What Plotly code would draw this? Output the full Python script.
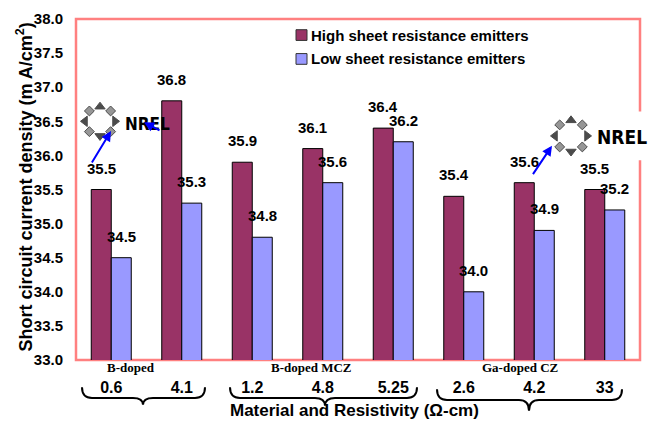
import math
import plotly.graph_objects as go

# Short-circuit current density by material and resistivity
resistivity = ["0.6", "4.1", "1.2", "4.8", "5.25", "2.6", "4.2", "33"]
high_sheet = [35.5, 36.8, 35.9, 36.1, 36.4, 35.4, 35.6, 35.5]
low_sheet = [34.5, 35.3, 34.8, 35.6, 36.2, 34.0, 34.9, 35.2]
series_names = ["High sheet resistance emitters", "Low sheet resistance emitters"]
materials = ["B-doped", "B-doped MCZ", "Ga-doped CZ"]

W, H = 652, 427
ML, MR, MT, MB = 76, 12, 10, 67
PW, PH = W - ML - MR, H - MT - MB

HIGH_COLOR = "#993366"
LOW_COLOR = "#9999FF"
SANS = "Liberation Sans, Arial, sans-serif"
SERIF = "Liberation Serif, Times New Roman, serif"


def px(x):
    return (x - ML) / PW


def py(y):
    return (H - MB - y) / PH


def label(x, y, text, font, **kw):
    d = dict(x=px(x), y=py(y), xref="paper", yref="paper", text=text, showarrow=False,
             xanchor="center", yanchor="middle", font=font)
    d.update(kw)
    return d


fig = go.Figure()
fig.add_trace(go.Bar(x=resistivity, y=high_sheet, name=series_names[0],
                     marker=dict(color=HIGH_COLOR, line=dict(color="#000000", width=1)),
                     showlegend=False))
fig.add_trace(go.Bar(x=resistivity, y=low_sheet, name=series_names[1],
                     marker=dict(color=LOW_COLOR, line=dict(color="#000000", width=1)),
                     showlegend=False))

bold15 = dict(family=SANS, size=15, color="#000", weight="bold")
annotations = []
# value labels above each bar (category index positions on the x axis)
for i, (hv, lv) in enumerate(zip(high_sheet, low_sheet)):
    for val, shift in ((hv, -10), (lv, 10)):
        annotations.append(dict(x=i, y=val, xref="x", yref="y", xshift=shift, yshift=11,
                                text=f"{val:.1f}", showarrow=False, xanchor="center",
                                yanchor="bottom", font=bold15))

# legend drawn inside the plot area
shapes = []
for i, (name, col) in enumerate(zip(series_names, [HIGH_COLOR, LOW_COLOR])):
    cy = 26.5 + 24.5 * i
    shapes.append(dict(type="rect", xref="paper", yref="paper",
                       x0=px(296), x1=px(307), y0=py(cy - 5.5), y1=py(cy + 5.5),
                       fillcolor=col, line=dict(color="#333333", width=1)))
    annotations.append(label(309, cy, name, bold15, xanchor="left"))

# plot-area frame
shapes.insert(0, dict(type="rect", xref="paper", yref="paper", x0=0, x1=1, y0=0, y1=1,
                      line=dict(color="#FF8080", width=2.5), layer="below"))

# white backing for the right-hand logo (over the frame, under the marks)
shapes.insert(1, dict(type="rect", xref="paper", yref="paper", x0=px(548), x1=px(652),
                      y0=py(155), y1=py(105), fillcolor="#FFFFFF", line=dict(width=0),
                      layer="below"))

# material group labels
for name, cx in zip(materials, [131, 311, 520]):
    annotations.append(label(cx, 368, name, dict(family=SERIF, size=13, color="#000", weight="bold")))


# curly braces grouping the resistivities
def brace(x0, x1, xm, ytop, ymid, ytip, r=10):
    pts = f"M {px(x0)},{py(ytop)} Q {px(x0)},{py(ymid)} {px(x0 + r)},{py(ymid)} " \
          f"L {px(xm - r)},{py(ymid)} Q {px(xm)},{py(ymid)} {px(xm)},{py(ytip)} " \
          f"Q {px(xm)},{py(ymid)} {px(xm + r)},{py(ymid)} L {px(x1 - r)},{py(ymid)} " \
          f"Q {px(x1)},{py(ymid)} {px(x1)},{py(ytop)}"
    return dict(type="path", xref="paper", yref="paper", path=pts,
                line=dict(color="#000", width=2))


shapes.append(brace(82, 205, 143, 388, 399, 406))
shapes.append(brace(230, 417, 325, 388, 399, 407))
shapes.append(brace(437, 622, 529, 390, 401, 412))

# axis titles
annotations.append(label(25, 183, "Short circuit current density (m A/cm<sup>2</sup>)",
                         dict(family=SANS, size=18, color="#000", weight="bold"), textangle=-90))
annotations.append(label(354, 412, "Material and Resistivity (Ω-cm)",
                         dict(family=SANS, size=17, color="#000", weight="bold")))

# NREL logos: ring of arrows plus lettering
logo_x, logo_y, logo_sym, logo_col, logo_size, logo_ang = [], [], [], [], [], []
for cx, cy, r in ((100, 115, 15), (571, 130, 16)):
    for k in range(8):
        th = math.radians(45 * k)
        logo_x.append(cx + r * math.cos(th))
        logo_y.append(cy - r * math.sin(th))
        if k % 2 == 0:
            logo_sym.append(["triangle-right", "triangle-up", "triangle-left", "triangle-down"][k // 2])
            logo_col.append("#000000")
            logo_size.append(9)
            logo_ang.append(0)
        else:
            logo_sym.append("square")
            logo_col.append("#6A6A6A")
            logo_size.append(7)
            logo_ang.append(45 * k)
fig.add_trace(go.Scatter(x=logo_x, y=logo_y, xaxis="x2", yaxis="y2", mode="markers",
                         marker=dict(symbol=logo_sym, color=logo_col, size=logo_size, angle=logo_ang,
                                     line=dict(color="#000", width=1)),
                         cliponaxis=False, hoverinfo="skip", showlegend=False))
for cx, cy, size in ((147, 118, 17), (622, 131, 19)):
    annotations.append(label(cx, cy, "NREL",
                             dict(family="DejaVu Sans Condensed, DejaVu Sans, sans-serif",
                                  size=size, color="#000", weight="bold")))

# blue pointer arrows
for tipx, tipy, tailx, taily in ((111, 125, 91, 158), (144, 116, 161, 125), (552, 140, 532, 170)):
    annotations.append(dict(x=px(tipx), y=py(tipy), xref="paper", yref="paper", text="",
                            showarrow=True, ax=tailx - tipx, ay=taily - tipy,
                            arrowcolor="#0000FF", arrowwidth=2, arrowhead=2, arrowsize=1))

fig.update_layout(
    width=W, height=H,
    margin=dict(l=ML, r=MR, t=MT, b=MB, pad=0),
    paper_bgcolor="#FFFFFF", plot_bgcolor="rgba(0,0,0,0)",
    barmode="group", bargap=0.4326, bargroupgap=0,
    xaxis=dict(type="category", range=[-0.5, len(resistivity) - 0.5], showgrid=False,
               zeroline=False, showline=False, ticks="", ticklabelstandoff=16,
               tickfont=dict(family=SANS, size=16, color="#000", weight="bold")),
    yaxis=dict(range=[33, 38], dtick=0.5, tickformat=".1f", showgrid=False, zeroline=False,
               showline=False, ticks="", ticklabelstandoff=12,
               tickfont=dict(family=SANS, size=15, color="#000", weight="bold")),
    xaxis2=dict(domain=[0, 1], anchor="y2", range=[ML, W - MR], visible=False),
    yaxis2=dict(domain=[0, 1], anchor="x2", range=[H - MB, MT], visible=False),
    shapes=shapes, annotations=annotations,
    showlegend=False,
)

fig.write_html("out.html")
